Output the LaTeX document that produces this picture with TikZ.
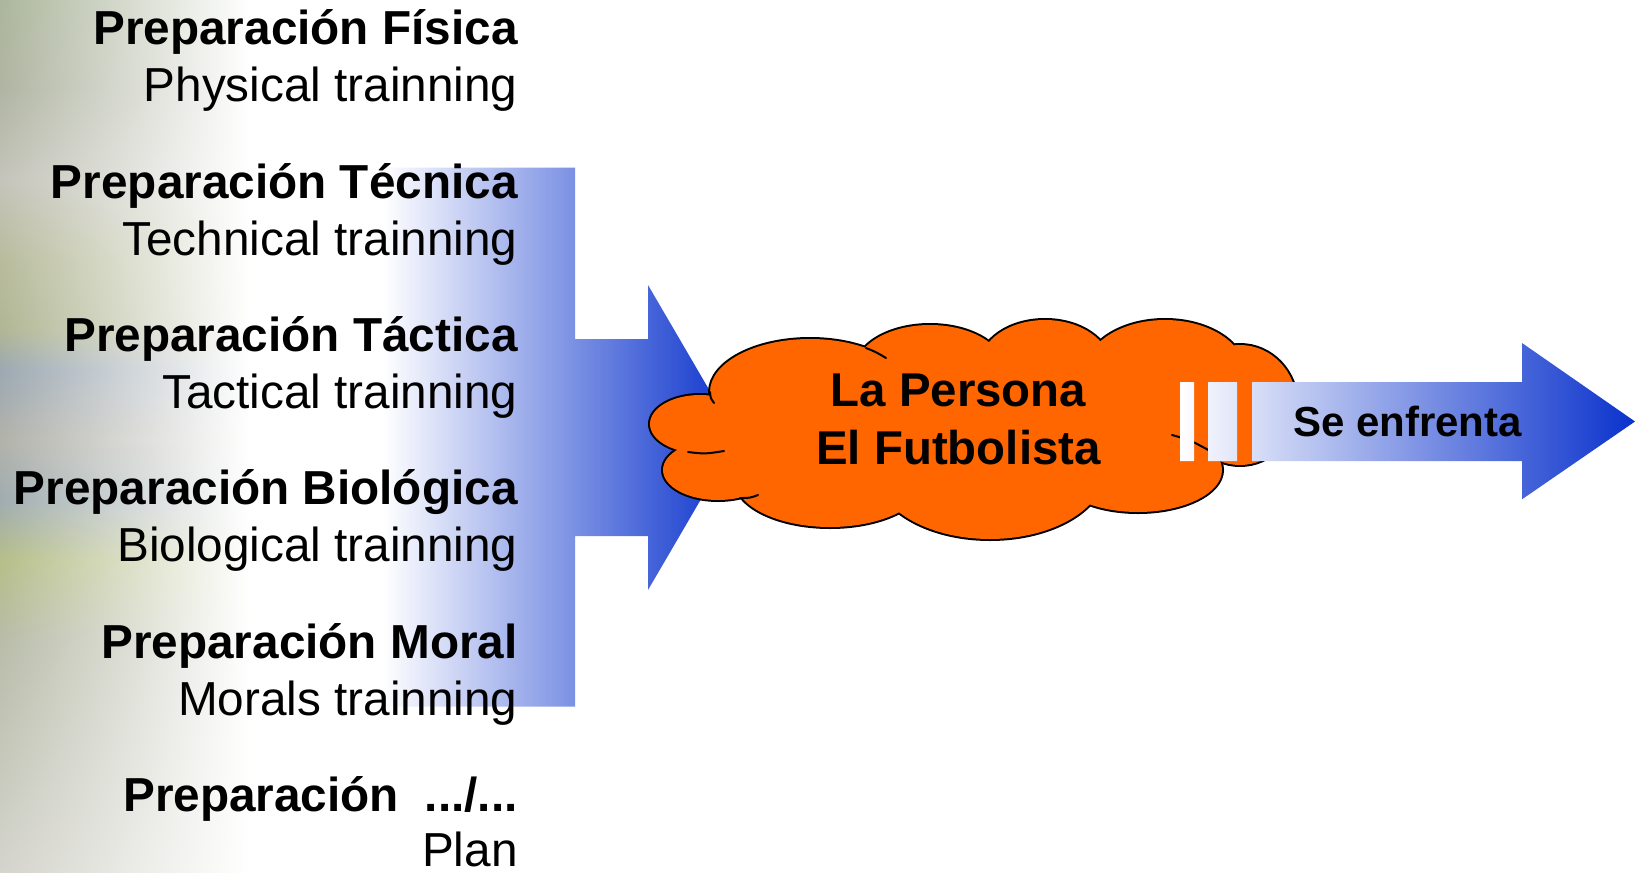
\documentclass[tikz,border=0pt]{standalone}
\usepackage{fontspec}
\setmainfont{Liberation Sans}
\usetikzlibrary{shadings}
\definecolor{blueD}{RGB}{10,50,204}
\definecolor{cloudor}{RGB}{255,102,0}
\definecolor{bg0}{RGB}{172,182,156}
\definecolor{bg1}{RGB}{176,181,162}
\definecolor{bg2}{RGB}{196,196,186}
\definecolor{bg3}{RGB}{184,188,156}
\definecolor{bg4}{RGB}{176,182,148}
\definecolor{bg5}{RGB}{156,168,178}
\definecolor{bg6}{RGB}{178,178,170}
\definecolor{bg7}{RGB}{160,172,176}
\definecolor{bg8}{RGB}{182,190,136}
\definecolor{bg9}{RGB}{184,188,168}
\definecolor{bg10}{RGB}{196,198,184}
\definecolor{bg11}{RGB}{212,212,204}
\begin{document}
\begin{tikzpicture}[x=0.5pt,y=-0.5pt,
  boldtxt/.style={font=\fontsize{23.85pt}{28pt}\selectfont\bfseries, anchor=base east, inner sep=0pt},
  regtxt/.style={font=\fontsize{23.85pt}{28pt}\selectfont, anchor=base east, inner sep=0pt},
  cloudtxt/.style={font=\fontsize{23.7pt}{28pt}\selectfont\bfseries, anchor=base, inner sep=0pt},
  arrowtxt/.style={font=\fontsize{21pt}{25pt}\selectfont\bfseries, anchor=base, inner sep=0pt},
  blueshade/.style={left color=white, right color=blueD},
  cloudline/.style={line width=1pt, line cap=round}]
\fill[white] (0,0) rectangle (1641,872);
\useasboundingbox (0,0) rectangle (1641,872);
% left photo-like background fading to white
\foreach \ya/\yb/\ca/\cb in {0/90/bg0/bg1, 90/180/bg1/bg2, 180/260/bg2/bg3, 260/330/bg3/bg4, 330/370/bg4/bg5, 370/440/bg5/bg6, 440/500/bg6/bg7, 500/560/bg7/bg8, 560/640/bg8/bg9, 640/740/bg9/bg10, 740/872/bg10/bg11}{
  \shade[upper left=\ca, lower left=\cb, upper right=white, lower right=white] (0,\ya) rectangle (250,\yb);
}
% big notched arrow
\shade[blueshade] (383,167.5) -- (575,167.5) -- (575,339) -- (648,339) -- (648,285) -- (737,437.5) -- (648,590) -- (648,536) -- (575,536) -- (575,706.5) -- (383,706.5) -- cycle;
% cloud: outline by thick strokes, then fill
\foreach \cx/\cy/\rx/\ry in {700/424/50/29, 718/470/55/30, 830/480/95/47, 990/470/115/69, 1138/470/84/42, 1240/405/57/60, 1165/372/80/52, 1045/365/65/45, 930/370/75/45, 810/392/100/53}{
  \draw[line width=2pt] (\cx,\cy) ellipse [x radius=\rx, y radius=\ry];
}
\foreach \cx/\cy/\rx/\ry in {700/424/50/29, 718/470/55/30, 830/480/95/47, 990/470/115/69, 1138/470/84/42, 1240/405/57/60, 1165/372/80/52, 1045/365/65/45, 930/370/75/45, 810/392/100/53, 960/430/240/75}{
  \fill[cloudor] (\cx,\cy) ellipse [x radius=\rx, y radius=\ry];
}
\draw[cloudline] (866,348) .. controls (876,352) .. (886,358);
\draw[cloudline] (710,392) .. controls (710.5,398) .. (714,403);
\draw[cloudline] (688,452) .. controls (705,454) .. (724,451);
\draw[cloudline] (740,498) .. controls (750,498) .. (758,495);
\draw[cloudline] (1212,452) .. controls (1190,440) .. (1172,435);
% striped arrow
\shade[blueshade] (1180,382) rectangle (1194,461) (1208,382) rectangle (1237,461)
  (1252,382) -- (1522,382) -- (1522,343) -- (1635,421.5) -- (1522,499.3) -- (1522,461) -- (1252,461) -- cycle;
\node[arrowtxt] (se) at (1407.5,436.7) {Se enfrenta};
% cloud text
\node[cloudtxt] (lp) at (958.5,406.7) {La Persona};
\node[cloudtxt] (ef) at (958.5,464.3) {El Futbolista};
% left texts
\node[boldtxt] (b1) at (518,45) {Preparación Física};
\node[regtxt] (r1) at (518,102) {Physical trainning};
\node[boldtxt] (b2) at (518,198.3) {Preparación Técnica};
\node[regtxt] (r2) at (518,255.3) {Technical trainning};
\node[boldtxt] (b3) at (518,351.6) {Preparación Táctica};
\node[regtxt] (r3) at (518,408.6) {Tactical trainning};
\node[boldtxt] (b4) at (518,504.9) {Preparación Biológica};
\node[regtxt] (r4) at (518,561.9) {Biological trainning};
\node[boldtxt] (b5) at (518,658.2) {Preparación Moral};
\node[regtxt] (r5) at (518,715.2) {Morals trainning};
\node[boldtxt] (b6) at (518,811.5) {Preparación\hspace{0.54em}.../...};
\node[regtxt] (r6) at (518,866.5) {Plan};
\end{tikzpicture}
\end{document}
